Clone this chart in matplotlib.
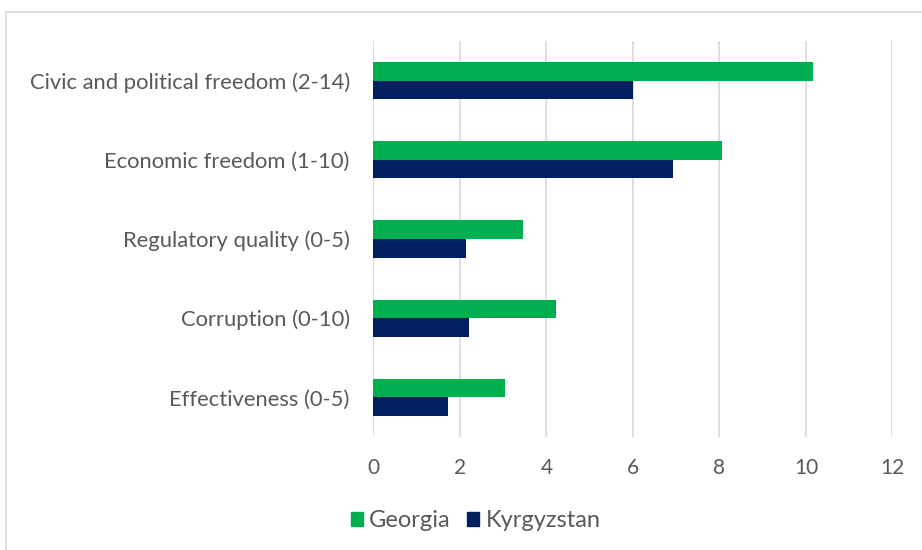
import matplotlib
matplotlib.use("Agg")
import matplotlib.pyplot as plt
from matplotlib.patches import Rectangle, Patch
import numpy as np

categories = ["Civic and political freedom (2-14)", "Economic freedom (1-10)",
              "Regulatory quality (0-5)", "Corruption (0-10)", "Effectiveness (0-5)"]
georgia = [10.17, 8.07, 3.46, 4.21, 3.05]
kyrgyzstan = [6.01, 6.92, 2.13, 2.22, 1.73]
xticks = [0, 2, 4, 6, 8, 10, 12]

plt.rcParams['font.family'] = ['Lato', 'DejaVu Sans']

fig = plt.figure(figsize=(9.22, 5.5), dpi=100)
ax = fig.add_axes([0.405, 0.2055, 0.563, 0.72])

y = np.arange(len(categories))
h = 0.234
ax.barh(y - h / 2, georgia, height=h, color="#00B050", label="Georgia")
ax.barh(y + h / 2, kyrgyzstan, height=h, color="#002060", label="Kyrgyzstan")

ax.set_xlim(0, 12)
ax.set_ylim(len(categories) - 0.5, -0.5)
ax.set_xticks(xticks)
ax.set_xticklabels([str(t) for t in xticks])
ax.set_yticks(y)
ax.set_yticklabels(categories)
ax.tick_params(axis='both', length=0, labelcolor="#595959")
ax.tick_params(axis='y', pad=17, labelsize=15.8)
ax.tick_params(axis='x', pad=15, labelsize=15)
for lbl in ax.get_yticklabels():
    lbl.set_va('center_baseline')
ax.grid(axis='x', color="#D9D9D9", linewidth=1.2)
ax.set_axisbelow(True)
for s in ax.spines.values():
    s.set_visible(False)

handles = [Patch(color="#00B050"), Patch(color="#002060")]
fig.legend(handles, ["Georgia", "Kyrgyzstan"], loc="center", bbox_to_anchor=(0.516, 0.053),
           ncol=2, frameon=False, fontsize=17, labelcolor="#595959",
           handlelength=0.5, handleheight=0.5, handletextpad=0.28, columnspacing=0.7)

fig.patches.append(Rectangle((6 / 922, -0.1), 1.2, 1 - 12 / 550 + 0.1, transform=fig.transFigure,
                             fill=False, edgecolor="#D9D9D9", linewidth=1.2))

fig.savefig("out.png", dpi=100)
